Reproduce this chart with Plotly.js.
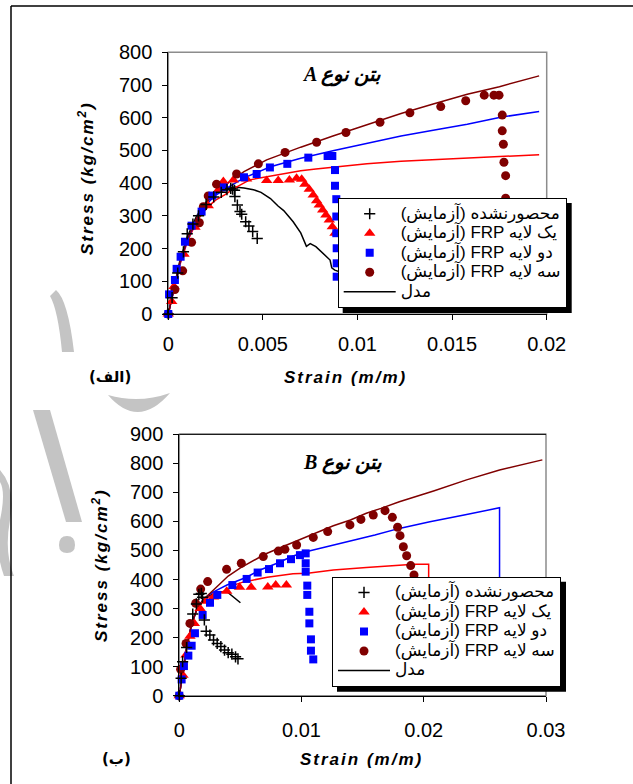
<!DOCTYPE html>
<html>
<head>
<meta charset="utf-8">
<script src="https://cdn.plot.ly/plotly-3.0.1.min.js"></script>
<style>
  html, body { margin: 0; padding: 0; background: #fff; }
  #chart { width: 633px; height: 784px; }
  /* wide tracking on the four axis titles (annotations 0-3) */
  g.annotation[data-index="0"] text, g.annotation[data-index="1"] text,
  g.annotation[data-index="2"] text, g.annotation[data-index="3"] text { letter-spacing: 2px; }
  /* legend rows stay compact while the entry text is drawn larger */
  .legendtext, g.legend text, g.legend2 text { font-size: 17px !important; }
</style>
</head>
<body>
<div id="chart"></div>
<script>
// ---------- Concrete type A : strain (m/m) vs stress (kg/cm2) ----------
const aUnconfStrain = [0, 0.0002, 0.0005, 0.0008, 0.001, 0.0013, 0.0016, 0.002, 0.0024, 0.0028, 0.0031, 0.0033, 0.0034, 0.0035, 0.00352, 0.00365, 0.00379, 0.00388, 0.00409, 0.00426, 0.00446, 0.0047];
const aUnconfStress = [0, 50, 125, 190, 245, 275, 300, 335, 358, 372, 380, 384, 382, 378, 359, 333, 313, 305, 282, 269, 252, 231];

const aOneStrain = [0, 0.00018, 0.0003, 0.00083, 0.00141, 0.00211, 0.00264, 0.00291, 0.00344, 0.00414, 0.0052, 0.00581, 0.0064, 0.00678, 0.00705, 0.00722, 0.00745, 0.00766, 0.00784, 0.00798, 0.00816, 0.00833, 0.00851, 0.00867, 0.00881];
const aOneStress = [0, 38, 84, 183, 265, 331, 379, 405, 410, 413, 408, 408, 410, 415, 412, 397, 381, 364, 346, 333, 318, 303, 287, 267, 247];

const aTwoStrain = [0, 0.00004, 0.00035, 0.00044, 0.00065, 0.00088, 0.00123, 0.00176, 0.00233, 0.00294, 0.004, 0.00467, 0.00537, 0.00629, 0.0074, 0.00842, 0.00867, 0.00881, 0.00881, 0.00888, 0.00888, 0.00888, 0.0089, 0.0089, 0.0089];
const aTwoStress = [0, 60, 104, 138, 175, 221, 270, 313, 362, 387, 418, 428, 448, 459, 478, 483, 483, 440, 392, 351, 298, 247, 201, 155, 114];

const aThreeStrain = [0, 0.00035, 0.00076, 0.00123, 0.00164, 0.00185, 0.00211, 0.00255, 0.00361, 0.00476, 0.00617, 0.00784, 0.00939, 0.01119, 0.01277, 0.0144, 0.01572, 0.0167, 0.01721, 0.01748, 0.01765, 0.01765, 0.01771, 0.01774, 0.01783, 0.01783];
const aThreeStress = [0, 75, 132, 219, 279, 328, 361, 397, 428, 459, 494, 525, 555, 586, 615, 634, 652, 669, 669, 669, 608, 560, 519, 464, 423, 354];

const aModel0Strain = [0, 0.0003, 0.0006, 0.001, 0.0015, 0.002, 0.0025, 0.003, 0.0035, 0.004, 0.0045, 0.0049, 0.0054, 0.0058, 0.0061, 0.0066, 0.007, 0.0073, 0.0075, 0.0078, 0.0083, 0.00855, 0.00864, 0.0088, 0.0095, 0.0105];
const aModel0Stress = [0, 85, 160, 235, 300, 342, 368, 383, 388, 385, 380, 372, 353, 330, 316, 282, 248, 207, 215, 206, 180, 165, 141, 134, 120, 100];
const aModel1Strain = [0, 0.0003, 0.0006, 0.001, 0.0015, 0.002, 0.0025, 0.003, 0.0035, 0.0043, 0.0052, 0.0061, 0.007, 0.0078, 0.0087, 0.0096, 0.0105, 0.0123, 0.014, 0.0158, 0.0175, 0.0196];
const aModel1Stress = [0, 78, 148, 220, 283, 323, 348, 365, 385, 410, 420, 430, 438, 443, 449, 454, 459, 467, 472, 477, 481, 487];
const aModel2Strain = [0, 0.0003, 0.0006, 0.001, 0.0015, 0.002, 0.0025, 0.003, 0.0035, 0.004, 0.0054, 0.007, 0.0087, 0.0105, 0.0123, 0.014, 0.0158, 0.0175, 0.0196];
const aModel2Stress = [0, 80, 152, 225, 290, 335, 363, 382, 400, 416, 450, 476, 499, 522, 544, 562, 580, 601, 619];
const aModel3Strain = [0, 0.0003, 0.0006, 0.001, 0.0015, 0.002, 0.0025, 0.003, 0.0035, 0.004, 0.0052, 0.007, 0.0087, 0.0105, 0.0123, 0.014, 0.0158, 0.0175, 0.0196];
const aModel3Stress = [0, 82, 155, 228, 293, 340, 372, 395, 415, 435, 471, 510, 544, 578, 613, 642, 672, 695, 728];

// ---------- Concrete type B ----------
const bUnconfStrain = [0, 0.00015, 0.00027, 0.0006, 0.0011, 0.0014, 0.0016, 0.0018, 0.0019, 0.00205, 0.0022, 0.0025, 0.0028, 0.0031, 0.0034, 0.0037, 0.004, 0.0043, 0.0046, 0.0048];
const bUnconfStress = [0, 60, 117, 166, 281, 316, 349, 352, 339, 261, 222, 209, 192, 180, 169, 157, 148, 143, 134, 127];

const bOneStrain = [0, 0.0003, 0.00055, 0.00087, 0.00123, 0.0017, 0.0022, 0.0028, 0.00388, 0.00493, 0.00588, 0.00724, 0.00789, 0.00876];
const bOneStress = [0, 70, 140, 205, 249, 300, 325, 340, 360, 373, 373, 374, 381, 381];

const bTwoStrain = [0, 0.00019, 0.00038, 0.00074, 0.00101, 0.00128, 0.00191, 0.00251, 0.00311, 0.00434, 0.00551, 0.00641, 0.00734, 0.00824, 0.00914, 0.00987, 0.01034, 0.01034, 0.01034, 0.01047, 0.01047, 0.01064, 0.01064, 0.01077, 0.01077, 0.01096];
const bTwoStress = [0, 56, 102, 138, 172, 215, 278, 320, 347, 381, 402, 424, 436, 456, 470, 484, 490, 456, 427, 379, 347, 289, 249, 194, 155, 125];

const bThreeStrain = [0, 0.00011, 0.00055, 0.00087, 0.00134, 0.00175, 0.00232, 0.00387, 0.00507, 0.00687, 0.0081, 0.00864, 0.0096, 0.01096, 0.01214, 0.01396, 0.01486, 0.01587, 0.01683, 0.01743, 0.01786, 0.01806, 0.01833, 0.0186, 0.01893, 0.0192];
const bThreeStress = [0, 91, 180, 249, 318, 367, 393, 435, 456, 479, 498, 504, 519, 545, 565, 588, 607, 622, 637, 614, 580, 551, 513, 482, 448, 416];

const bModel0Strain = [0, 0.0003, 0.0006, 0.001, 0.0015, 0.002, 0.0025, 0.003, 0.0035, 0.0039, 0.0043, 0.0047, 0.005];
const bModel0Stress = [0, 90, 165, 245, 305, 332, 345, 353, 358, 358, 343, 330, 320];
const bModel1Strain = [0, 0.0003, 0.0006, 0.001, 0.0015, 0.002, 0.0025, 0.003, 0.0039, 0.0044, 0.0052, 0.0072, 0.0093, 0.0105, 0.0126, 0.0153, 0.018, 0.0192, 0.0204, 0.0204];
const bModel1Stress = [0, 90, 165, 245, 305, 330, 342, 350, 363, 380, 391, 408, 420, 422, 433, 441, 450, 453, 453, 300];
const bModel2Strain = [0, 0.0003, 0.0006, 0.001, 0.0015, 0.002, 0.0025, 0.003, 0.0039, 0.0055, 0.0066, 0.008, 0.0093, 0.0107, 0.0121, 0.0134, 0.0148, 0.016, 0.018, 0.0205, 0.0233, 0.026, 0.0262, 0.0262];
const bModel2Stress = [0, 90, 165, 245, 305, 332, 350, 362, 381, 408, 433, 456, 481, 499, 513, 525, 539, 553, 576, 599, 622, 647, 647, 300];
const bModel3Strain = [0, 0.0003, 0.0006, 0.001, 0.0015, 0.002, 0.0025, 0.003, 0.0035, 0.004, 0.005, 0.006, 0.007, 0.008, 0.009, 0.01, 0.011, 0.0126, 0.014, 0.0153, 0.0165, 0.018, 0.0208, 0.0235, 0.0262, 0.0297];
const bModel3Stress = [0, 90, 165, 245, 305, 332, 352, 375, 395, 412, 440, 464, 487, 505, 522, 540, 556, 585, 605, 628, 645, 668, 705, 743, 777, 812];

// ---------- labels ----------
// Strings are stored in the logical order that lays them out right-to-left
// inside a left-to-right SVG text run; LRM keeps the parenthesis on the left.
const LRM = '\u200E';
const seriesNames = [
  '(آزمایش)' + LRM + ' محصورنشده',
  '(آزمایش) FRP یک لایه',
  '(آزمایش) FRP دو لایه',
  '(آزمایش) FRP سه لایه',
  'مدل'
];
const panelTitles = ['A بتن نوع', 'B بتن نوع'];
const panelTags = ['(الف)', '(ب)'];
const xTitle = 'Strain (m/m)';
const yTitle = 'Stress (kg/cm<sup>2</sup>)';

// ---------- styling ----------
const W = 633, H = 784;
const SANS = 'Liberation Sans, Arial, DejaVu Sans, sans-serif';
const SERIF = 'Liberation Serif, Times New Roman, DejaVu Sans, serif';
const RED = '#ff0000', BLUE = '#0000ff', BROWN = '#800000';
const MARK = '#c4c4c4';
const px = v => v / W;
const py = v => 1 - v / H;

function panelTraces(ax, lg, d) {
  const xa = ax === 1 ? 'x' : 'x2', ya = ax === 1 ? 'y' : 'y2';
  const common = { xaxis: xa, yaxis: ya, legend: lg, cliponaxis: false, hoverinfo: 'skip' };
  const model = (x, y, color, show) => Object.assign({
    type: 'scatter', mode: 'lines', x, y, name: seriesNames[4],
    line: { color, width: 1.5 }, legendgroup: 'model' + ax, showlegend: show, legendrank: 5
  }, common);
  return [
    model(d.m0x, d.m0y, 'black', true),
    model(d.m1x, d.m1y, RED, false),
    model(d.m2x, d.m2y, BLUE, false),
    model(d.m3x, d.m3y, BROWN, false),
    Object.assign({ type: 'scatter', mode: 'markers', x: d.t1x, y: d.t1y, name: seriesNames[1], legendrank: 2,
      marker: { symbol: 'triangle-up', size: 10, color: RED } }, common),
    Object.assign({ type: 'scatter', mode: 'markers', x: d.t3x, y: d.t3y, name: seriesNames[3], legendrank: 4,
      marker: { symbol: 'circle', size: 9, color: BROWN } }, common),
    Object.assign({ type: 'scatter', mode: 'markers', x: d.t2x, y: d.t2y, name: seriesNames[2], legendrank: 3,
      marker: { symbol: 'square', size: 8, color: BLUE } }, common),
    Object.assign({ type: 'scatter', mode: 'markers', x: d.ux, y: d.uy, name: seriesNames[0], legendrank: 1,
      marker: { symbol: 'cross-thin', size: 8, color: 'black', line: { color: 'black', width: 1.5 } } }, common)
  ];
}

const traces = [].concat(
  panelTraces(1, 'legend', {
    ux: aUnconfStrain, uy: aUnconfStress, t1x: aOneStrain, t1y: aOneStress,
    t2x: aTwoStrain, t2y: aTwoStress, t3x: aThreeStrain, t3y: aThreeStress,
    m0x: aModel0Strain, m0y: aModel0Stress, m1x: aModel1Strain, m1y: aModel1Stress,
    m2x: aModel2Strain, m2y: aModel2Stress, m3x: aModel3Strain, m3y: aModel3Stress
  }),
  panelTraces(2, 'legend2', {
    ux: bUnconfStrain, uy: bUnconfStress, t1x: bOneStrain, t1y: bOneStress,
    t2x: bTwoStrain, t2y: bTwoStress, t3x: bThreeStrain, t3y: bThreeStress,
    m0x: bModel0Strain, m0y: bModel0Stress, m1x: bModel1Strain, m1y: bModel1Stress,
    m2x: bModel2Strain, m2y: bModel2Stress, m3x: bModel3Strain, m3y: bModel3Stress
  })
);

const tickFont = { family: SANS, size: 20, color: 'black' };
function axis(extra) {
  return Object.assign({
    showline: true, linecolor: 'black', linewidth: 1, mirror: false,
    ticks: 'outside', ticklen: 5, tickwidth: 1, tickcolor: 'black',
    showgrid: false, zeroline: false, tickfont: tickFont, fixedrange: true
  }, extra);
}

const legendFont = { family: SANS, size: 12.7, color: 'black' };
function legendAt(x, y) {
  return {
    x: px(x), y: py(y), xanchor: 'left', yanchor: 'top',
    bgcolor: 'white', bordercolor: 'black', borderwidth: 1,
    font: Object.assign({}, legendFont), itemwidth: 52, traceorder: 'normal',
    itemclick: false, itemdoubleclick: false
  };
}

const titleFont = { family: SANS, size: 17, color: 'black', weight: 'bold', style: 'italic' };
const tagFont = { family: 'DejaVu Sans, sans-serif', size: 15, color: 'black', weight: 'bold' };
const panelFont = { family: SERIF, size: 20, color: 'black', weight: 'bold', style: 'italic' };
const annotations = [
  { text: xTitle, x: px(346), y: py(377), font: titleFont },
  { text: xTitle, x: px(362), y: py(759), font: titleFont },
  { text: yTitle, x: px(86), y: py(178), textangle: -90, font: titleFont },
  { text: yTitle, x: px(100), y: py(565), textangle: -90, font: titleFont },
  { text: panelTags[0], x: px(110), y: py(377), font: tagFont },
  { text: panelTags[1], x: px(116), y: py(759), font: tagFont },
  { text: panelTitles[0], x: px(341), y: py(75), font: panelFont },
  { text: panelTitles[1], x: px(342), y: py(463), font: panelFont }
].map(a => Object.assign({ xref: 'paper', yref: 'paper', showarrow: false, xanchor: 'center', yanchor: 'middle' }, a));

// pixel-space path helper for the light grey page stamp behind the charts
function pagePath(cmds) {
  return cmds.replace(/(-?\d+(?:\.\d+)?),(-?\d+(?:\.\d+)?)/g, (m, a, b) => px(+a).toFixed(5) + ',' + py(+b).toFixed(5));
}
const stamp = [
  { path: 'M108,395 Q138,430 170,393 Q139,404 108,395 Z' },
  { path: 'M56,290 Q68,300 74,352 L62,352 Q58,310 50,296 Z' },
  { path: 'M33,410 L50,410 L82,522 L66,522 Z' },
  { path: 'M59,545 Q59,536 67,536 Q75,536 75,545 Q75,553 67,553 Q59,553 59,545 Z' },
  { path: 'M0,470 Q16,488 10,520 Q4,552 14,576 L4,576 Q-6,548 0,520 Q6,492 0,482 Z' }
].map(s => ({ type: 'path', xref: 'paper', yref: 'paper', layer: 'below',
  path: pagePath(s.path), fillcolor: MARK, line: { width: 0 } }));

const baseShapes = stamp.concat([
  // page frame
  { type: 'line', xref: 'paper', yref: 'paper', x0: px(11), x1: px(11), y0: -0.02, y1: py(6), line: { color: 'black', width: 1.5 } },
  { type: 'line', xref: 'paper', yref: 'paper', x0: px(11), x1: 1.02, y0: py(6), y1: py(6), line: { color: 'black', width: 1.5 } },
  // plot frames
  { type: 'rect', xref: 'x domain', yref: 'y domain', x0: 0, x1: 1, y0: 0, y1: 1, layer: 'below', line: { color: '#8c8c8c', width: 1.5 } },
  { type: 'rect', xref: 'x2 domain', yref: 'y2 domain', x0: 0, x1: 1, y0: 0, y1: 1, layer: 'below', line: { color: '#8c8c8c', width: 1.5 } },
  { type: 'line', xref: 'x2 domain', yref: 'y2 domain', x0: 0, x1: 1, y0: 1, y1: 1, layer: 'below', line: { color: 'black', width: 1 } }
]);

const layout = {
  width: W, height: H,
  margin: { l: 0, r: 0, t: 0, b: 0 },
  paper_bgcolor: 'white', plot_bgcolor: 'rgba(0,0,0,0)',
  showlegend: true,
  font: { family: SANS, color: 'black' },
  xaxis: axis({ domain: [px(168.3), px(546.7)], range: [0, 0.02], tick0: 0, dtick: 0.005, anchor: 'y', ticklabelstandoff: 7 }),
  yaxis: axis({ domain: [py(314), py(52.3)], range: [0, 800], tick0: 0, dtick: 100, anchor: 'x', ticklabelstandoff: 6 }),
  xaxis2: axis({ domain: [px(179.3), px(546)], range: [0, 0.03], tick0: 0, dtick: 0.01, anchor: 'y2', ticklabelstandoff: 11 }),
  yaxis2: axis({ domain: [py(695.7), py(434.3)], range: [0, 900], tick0: 0, dtick: 100, anchor: 'x2', ticklabelstandoff: 6 }),
  legend: legendAt(337.7, 198),
  legend2: legendAt(332, 576.7),
  annotations: annotations,
  shapes: baseShapes
};

Plotly.newPlot('chart', traces, layout, { displayModeBar: false, staticPlot: true }).then(gd => {
  // drop shadows behind the two legend boxes, sized from the rendered legends
  const shadows = ['legend', 'legend2'].map(id => {
    const lg = gd._fullLayout[id];
    const left = lg.x * W, top = (1 - lg.y) * H;
    const w = lg._width, h = lg._height, off = 5;
    return { type: 'rect', xref: 'paper', yref: 'paper', layer: 'above',
      x0: px(left + off), x1: px(left + w + off), y0: py(top + h + off), y1: py(top + off),
      fillcolor: 'black', line: { width: 0 } };
  });
  return Plotly.relayout(gd, { shapes: baseShapes.concat(shadows) });
});
</script>
</body>
</html>
